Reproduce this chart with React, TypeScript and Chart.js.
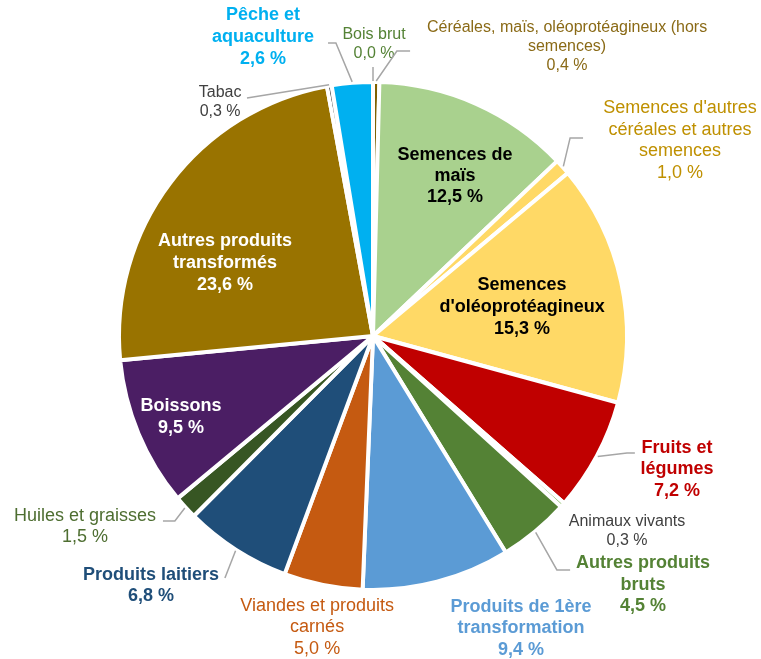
import React, { useEffect, useRef } from "react";
import { Chart, registerables } from "chart.js";

Chart.register(...registerables);

const categories = [
  "Bois brut",
  "Céréales, maïs, oléoprotéagineux (hors semences)",
  "Semences de maïs",
  "Semences d'autres céréales et autres semences",
  "Semences d'oléoprotéagineux",
  "Fruits et légumes",
  "Animaux vivants",
  "Autres produits bruts",
  "Produits de 1ère transformation",
  "Viandes et produits carnés",
  "Produits laitiers",
  "Huiles et graisses",
  "Boissons",
  "Autres produits transformés",
  "Tabac",
  "Pêche et aquaculture",
];

const values = [0.0, 0.4, 12.5, 1.0, 15.3, 7.2, 0.3, 4.5, 9.4, 5.0, 6.8, 1.5, 9.5, 23.6, 0.3, 2.6];

const sliceColors = [
  "#548235", "#7F6000", "#A9D18E", "#FFD966", "#FFD966", "#C00000", "#70AD47", "#548235",
  "#5B9BD5", "#C55A11", "#1F4E79", "#375623", "#4B1E64", "#997300", "#1A1A1A", "#00B0F0",
];

const labelLines = [
  ["Bois brut"],
  ["Céréales, maïs, oléoprotéagineux (hors", "semences)"],
  ["Semences de", "maïs"],
  ["Semences d'autres", "céréales et autres", "semences"],
  ["Semences", "d'oléoprotéagineux"],
  ["Fruits et", "légumes"],
  ["Animaux vivants"],
  ["Autres produits", "bruts"],
  ["Produits de 1ère", "transformation"],
  ["Viandes et produits", "carnés"],
  ["Produits laitiers"],
  ["Huiles et graisses"],
  ["Boissons"],
  ["Autres produits", "transformés"],
  ["Tabac"],
  ["Pêche et", "aquaculture"],
];

const labelColors = [
  "#548235", "#8A6A16", "#000000", "#BF9000", "#000000", "#C00000", "#404040", "#548235",
  "#5B9BD5", "#C55A11", "#1F4E79", "#4E6E31", "#FFFFFF", "#FFFFFF", "#404040", "#00B0F0",
];

// label placement, in units of the pie radius, relative to the pie centre
type Place = { dx: number; dy: number; size: number; bold: boolean; lh: number; anchor?: [number, number]; elbow?: [number, number] };
const placements: Place[] = [
  { dx: 0.004, dy: -1.150, size: 16, bold: false, lh: 19, anchor: [0, -1.059] },
  { dx: 0.764, dy: -1.138, size: 16, bold: false, lh: 19, anchor: [0.146, -1.122], elbow: [0.094, -1.122] },
  { dx: 0.323, dy: -0.630, size: 18, bold: true, lh: 21 },
  { dx: 1.209, dy: -0.770, size: 18, bold: false, lh: 21.7, anchor: [0.827, -0.780], elbow: [0.776, -0.780] },
  { dx: 0.587, dy: -0.114, size: 18, bold: true, lh: 22 },
  { dx: 1.197, dy: 0.524, size: 18, bold: true, lh: 21.5, anchor: [1.031, 0.461], elbow: [1.0, 0.461] },
  { dx: 1.0, dy: 0.768, size: 16, bold: false, lh: 19 },
  { dx: 1.063, dy: 0.980, size: 18, bold: true, lh: 21.5, anchor: [0.776, 0.921], elbow: [0.724, 0.921] },
  { dx: 0.583, dy: 1.150, size: 18, bold: true, lh: 21.5 },
  { dx: -0.220, dy: 1.146, size: 18, bold: false, lh: 21.5 },
  { dx: -0.874, dy: 0.982, size: 18, bold: true, lh: 21, anchor: [-0.583, 0.953] },
  { dx: -1.134, dy: 0.750, size: 18, bold: false, lh: 21, anchor: [-0.827, 0.728], elbow: [-0.780, 0.728] },
  { dx: -0.756, dy: 0.319, size: 18, bold: true, lh: 22 },
  { dx: -0.583, dy: -0.287, size: 18, bold: true, lh: 22 },
  { dx: -0.602, dy: -0.919, size: 16, bold: false, lh: 19, anchor: [-0.496, -0.937] },
  { dx: -0.433, dy: -1.177, size: 18, bold: true, lh: 22, anchor: [-0.177, -1.154], elbow: [-0.146, -1.154] },
];

const fmt = (v: number) => v.toFixed(1).replace(".", ",") + " %";

const labelPlugin = {
  id: "pieLabels",
  afterDatasetsDraw(chart: any) {
    const ctx = chart.ctx as CanvasRenderingContext2D;
    const meta = chart.getDatasetMeta(0);
    meta.data.forEach((arc: any, i: number) => {
      const p = arc.getProps(["x", "y", "outerRadius", "startAngle", "endAngle"], true);
      const R = p.outerRadius;
      const L = placements[i];
      const mid = (p.startAngle + p.endAngle) / 2;
      ctx.save();
      if (L.anchor) {
        ctx.strokeStyle = "#A6A6A6";
        ctx.lineWidth = 1.5;
        ctx.beginPath();
        ctx.moveTo(p.x + Math.cos(mid) * (R + 1), p.y + Math.sin(mid) * (R + 1));
        if (L.elbow) ctx.lineTo(p.x + L.elbow[0] * R, p.y + L.elbow[1] * R);
        ctx.lineTo(p.x + L.anchor[0] * R, p.y + L.anchor[1] * R);
        ctx.stroke();
      }
      const lines = [...labelLines[i], fmt(values[i])];
      ctx.fillStyle = labelColors[i];
      ctx.font = `${L.bold ? "bold " : ""}${L.size}px "Liberation Sans", Arial, sans-serif`;
      ctx.textAlign = "center";
      ctx.textBaseline = "middle";
      const cx = p.x + L.dx * R;
      const cy = p.y + L.dy * R;
      const top = cy - ((lines.length - 1) * L.lh) / 2;
      lines.forEach((t, k) => ctx.fillText(t, cx, top + k * L.lh));
      ctx.restore();
    });
  },
};

export default function App() {
  const ref = useRef<HTMLCanvasElement | null>(null);
  useEffect(() => {
    if (!ref.current) return;
    const chart = new Chart(ref.current, {
      type: "pie",
      data: {
        labels: categories,
        datasets: [
          {
            data: values,
            backgroundColor: sliceColors,
            borderColor: "#FFFFFF",
            borderWidth: 4,
          },
        ],
      },
      options: {
        responsive: false,
        maintainAspectRatio: false,
        animation: false,
        layout: { padding: { left: 117, right: 132, top: 80, bottom: 67 } },
        plugins: { legend: { display: false }, tooltip: { enabled: false } },
      },
      plugins: [labelPlugin],
    });
    return () => chart.destroy();
  }, []);
  return (
    <div style={{ position: "fixed", left: 0, top: 0, width: 761, height: 659, background: "#FFFFFF" }}>
      <canvas ref={ref} width={761} height={659} style={{ width: 761, height: 659 }} />
    </div>
  );
}
